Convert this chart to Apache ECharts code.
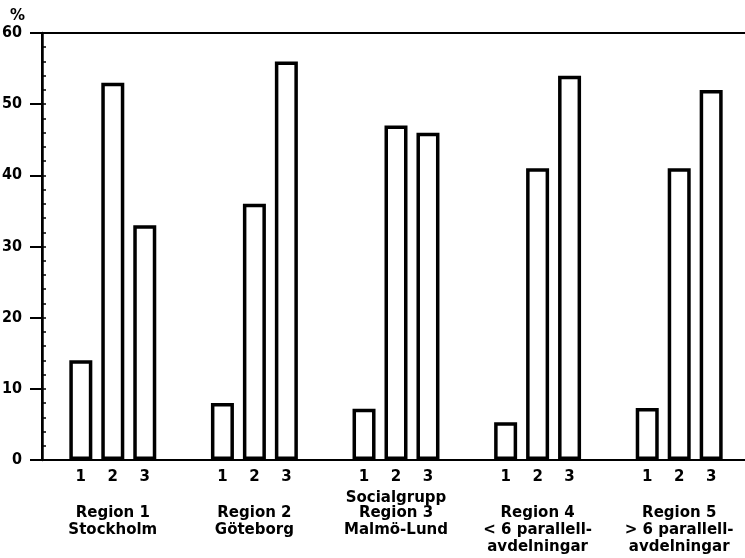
<!DOCTYPE html>
<html>
<head>
<meta charset="utf-8">
<script src="https://cdn.jsdelivr.net/npm/echarts@6/dist/echarts.min.js"></script>
<style>html,body{margin:0;padding:0;background:#fff}#c{width:745px;height:558px}</style>
</head>
<body>
<div id="c"></div>
<script>
const regions = ['Region 1\nStockholm', 'Region 2\nGöteborg', 'Region 3\nMalmö-Lund', 'Region 4\n< 6 parallell-\navdelningar', 'Region 5\n> 6 parallell-\navdelningar'];
const groupNames = ['1', '2', '3'];
const group1 = [14, 8, 7.2, 5.3, 7.3];
const group2 = [53, 36, 47, 41, 41];
const group3 = [33, 56, 46, 54, 52];
const yTicks = [0, 10, 20, 30, 40, 50, 60];
const xAxisTitle = 'Socialgrupp';
const yUnit = '%';

const font = 'DejaVu Sans';
const seriesData = [group1, group2, group3];
const chart = echarts.init(document.getElementById('c'), null, {renderer: 'canvas'});
chart.setOption({
  animation: false,
  backgroundColor: '#fff',
  title: {text: yUnit, left: 5, top: 4, textStyle: {fontFamily: font, fontWeight: 'bold', fontSize: 15, color: '#000'}},
  grid: {left: 42, top: 33, width: 708, height: 427, show: true, borderColor: '#000', borderWidth: 2,
         backgroundColor: 'transparent', outerBoundsMode: 'none', containLabel: false},
  xAxis: {
    type: 'category', data: regions,
    name: xAxisTitle, nameLocation: 'middle', nameGap: 30, nameMoveOverlap: false,
    nameTextStyle: {fontFamily: font, fontWeight: 'bold', fontSize: 15, color: '#000', lineHeight: 16},
    axisLine: {lineStyle: {color: '#000', width: 2}},
    axisTick: {show: false},
    axisLabel: {interval: 0, margin: 45, fontFamily: font, fontWeight: 'bold', fontSize: 15, color: '#000', lineHeight: 17}
  },
  yAxis: [{
    type: 'value', min: yTicks[0], max: yTicks[yTicks.length - 1], interval: 10,
    axisLine: {show: true, lineStyle: {color: '#000', width: 2.5}},
    axisTick: {show: true, length: 12, lineStyle: {color: '#000', width: 2}},
    splitLine: {show: false},
    axisLabel: {margin: 20, fontFamily: 'DejaVu Sans Condensed, DejaVu Sans', fontWeight: 'bold', fontSize: 16, color: '#000'}
  }, {
    type: 'value', position: 'left', min: yTicks[0], max: yTicks[yTicks.length - 1], interval: 2,
    axisLine: {show: false},
    axisTick: {show: true, inside: true, length: 4, lineStyle: {color: '#000', width: 1.5}},
    splitLine: {show: false},
    axisLabel: {show: false}
  }],
  series: seriesData.map((d, i) => ({
    type: 'bar', name: groupNames[i], data: d, yAxisIndex: 0,
    barWidth: 23, barGap: '39%',
    itemStyle: {color: '#fff', borderColor: '#000', borderWidth: 3.5},
    label: {show: true, position: 'bottom', distance: 10, formatter: '{a}', fontFamily: font, fontWeight: 'bold', fontSize: 15, color: '#000'}
  }))
});
</script>
</body>
</html>
